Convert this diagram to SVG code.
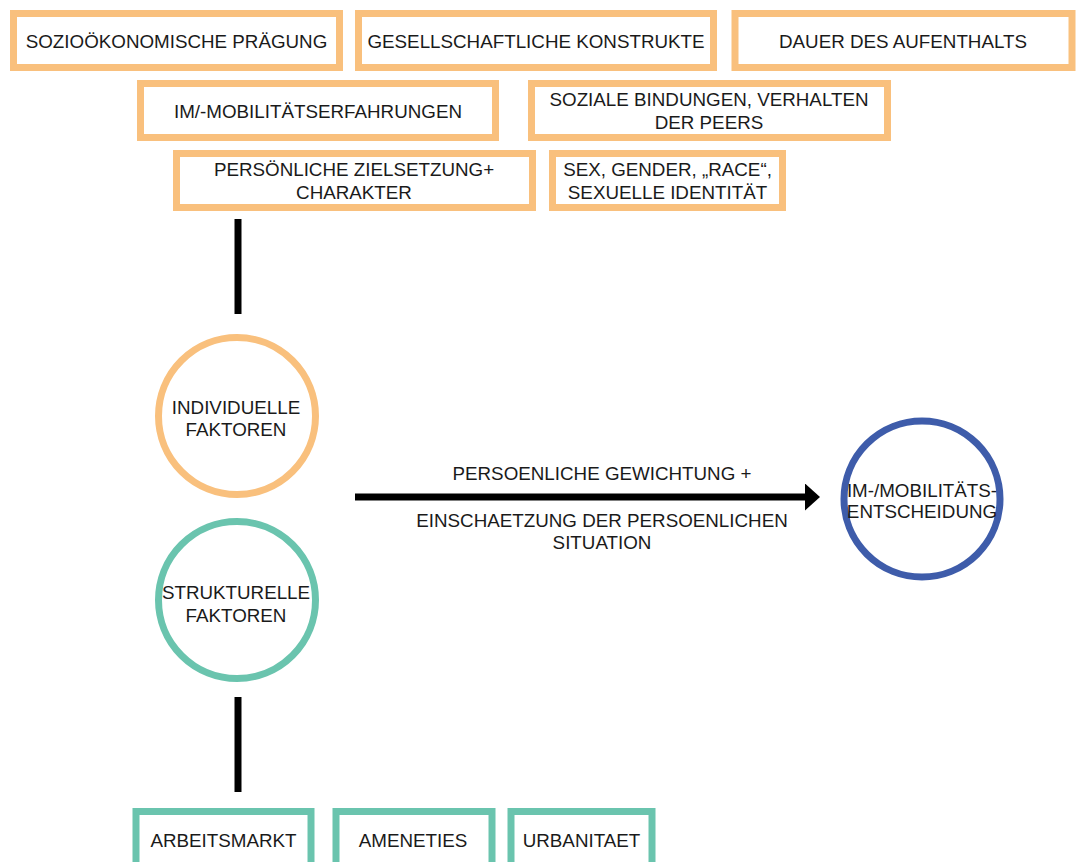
<svg xmlns="http://www.w3.org/2000/svg" width="1079" height="862" viewBox="0 0 1079 862">
<style>
  text { font-family: "Liberation Sans", Arial, sans-serif; font-size: 18.8px; fill: #1a1a1a; text-anchor: middle; }
  .ob { fill: #fff; stroke: #F9C07D; stroke-width: 7; }
  .tb { fill: #fff; stroke: #6AC4AE; stroke-width: 7; }
  .oc { fill: #fff; stroke: #F9C07D; stroke-width: 7; }
  .tc { fill: #fff; stroke: #6AC4AE; stroke-width: 7; }
  .bc { fill: #fff; stroke: #3E5CAA; stroke-width: 7; }
  .ln { stroke: #000; stroke-width: 7; fill: none; }
</style>
<defs>
  <marker id="ah" viewBox="0 0 15 27" refX="0" refY="13.5" markerWidth="15" markerHeight="27" markerUnits="userSpaceOnUse" orient="auto">
    <path d="M0,0 L15,13.5 L0,27 Z" fill="#000"/>
  </marker>
</defs>
<rect width="1079" height="862" fill="#fff"/>

<g id="n-sozio"><rect class="ob" x="13.5" y="13.5" width="326" height="54"/><text x="176.5" y="47.5">SOZIOÖKONOMISCHE PRÄGUNG</text></g>
<g id="n-gesell"><rect class="ob" x="358.5" y="13.5" width="355" height="54"/><text x="536" y="47.5">GESELLSCHAFTLICHE KONSTRUKTE</text></g>
<g id="n-dauer"><rect class="ob" x="735" y="13.5" width="337" height="54"/><text x="903" y="47.5">DAUER DES AUFENTHALTS</text></g>
<g id="n-immob"><rect class="ob" x="140.5" y="83.5" width="355" height="54"/><text x="318" y="117.5">IM/-MOBILITÄTSERFAHRUNGEN</text></g>
<g id="n-sozial"><rect class="ob" x="531.5" y="83.5" width="356" height="54"/><text x="709" y="106">SOZIALE BINDUNGEN, VERHALTEN</text><text x="709" y="129">DER PEERS</text></g>
<g id="n-persoen"><rect class="ob" x="176.5" y="153.5" width="356" height="54"/><text x="354" y="176">PERSÖNLICHE ZIELSETZUNG+</text><text x="354" y="199">CHARAKTER</text></g>
<g id="n-sex"><rect class="ob" x="552.5" y="153.5" width="230" height="54"/><text x="667.5" y="176">SEX, GENDER, „RACE“,</text><text x="667.5" y="199">SEXUELLE IDENTITÄT</text></g>

<g id="connectors">
  <line class="ln" x1="238" y1="219" x2="238" y2="314"/>
  <line class="ln" x1="238" y1="697" x2="238" y2="792"/>
  <line class="ln" x1="355" y1="497" x2="805" y2="497" marker-end="url(#ah)"/>
</g>

<g id="n-indiv"><circle class="oc" cx="237" cy="416" r="78.5"/><text x="236" y="414">INDIVIDUELLE</text><text x="236" y="436">FAKTOREN</text></g>
<g id="n-strukt"><circle class="tc" cx="237" cy="600" r="78.5"/><text x="236" y="599">STRUKTURELLE</text><text x="236" y="621.5">FAKTOREN</text></g>
<g id="n-entsch"><circle class="bc" cx="922" cy="499" r="78"/><text x="922" y="497">IM-/MOBILITÄTS-</text><text x="922" y="518">ENTSCHEIDUNG</text></g>

<g id="arrow-label">
  <text x="602" y="480">PERSOENLICHE GEWICHTUNG +</text>
  <text x="602" y="527">EINSCHAETZUNG DER PERSOENLICHEN</text>
  <text x="602" y="549">SITUATION</text>
</g>

<g id="n-arbeit"><rect class="tb" x="136" y="811.5" width="175" height="70"/><text x="223.5" y="847">ARBEITSMARKT</text></g>
<g id="n-amen"><rect class="tb" x="336" y="811.5" width="156" height="70"/><text x="413" y="847">AMENETIES</text></g>
<g id="n-urban"><rect class="tb" x="511" y="811.5" width="141" height="70"/><text x="581.5" y="847">URBANITAET</text></g>
</svg>
